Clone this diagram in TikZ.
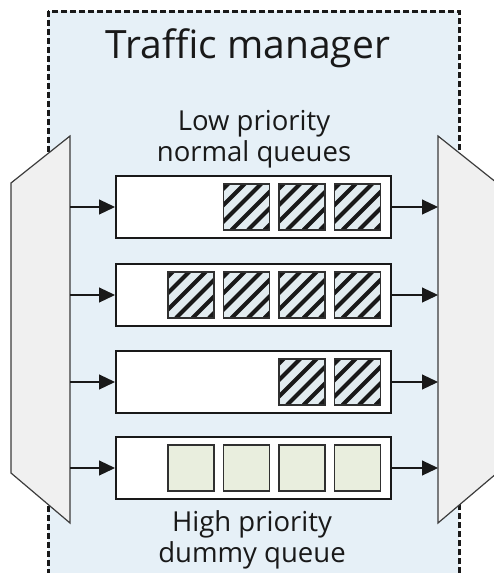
\documentclass[tikz,border=0pt]{standalone}
\usepackage{fontspec}
\setmainfont{Open Sans}
\usetikzlibrary{arrows.meta}
\definecolor{tmbg}{RGB}{230,240,247}
\definecolor{muxfill}{RGB}{240,240,240}
\definecolor{hatchbg}{RGB}{226,236,240}
\definecolor{greencell}{RGB}{233,238,222}
\definecolor{ink}{RGB}{25,25,25}
\tikzset{
  tmbox/.style={draw=ink, line width=3pt, dash pattern=on 6pt off 3pt, fill=tmbg},
  mux/.style={draw=ink!85, line width=1.2pt, fill=muxfill},
  queuebox/.style={draw=ink, line width=2pt, fill=white, minimum width=275pt, minimum height=62pt, inner sep=0pt},
  cellbase/.style={draw=ink!90, line width=1.5pt, minimum width=46pt, minimum height=46pt, inner sep=0pt},
  hcell/.style={cellbase, fill=hatchbg, path picture={
      \foreach \i in {-58,-41.5,...,58}
        \draw[ink, line width=4pt] ([xshift=\i pt]path picture bounding box.south west) -- ++(60pt,60pt);
    }},
  gcell/.style={cellbase, fill=greencell},
  flow/.style={draw=ink, line width=1.2pt, -{Triangle[length=16pt,width=15pt]}},
  lbl/.style={font=\fontsize{27.5}{31}\selectfont, text=ink, align=center, anchor=base, inner sep=0pt},
}
\begin{document}
\begin{tikzpicture}[x=1pt,y=-1pt]
\useasboundingbox (0,0) rectangle (494,573);
% traffic manager frame
\draw[tmbox] (48,11) rectangle (459,577);
\node[font=\fontsize{39}{44}\selectfont, text=ink, anchor=base, inner sep=0pt] (title) at (248,58) {Traffic manager};
% muxes
\draw[mux] (11,183) -- (70,136) -- (70,523) -- (11,473) -- cycle;
\draw[mux] (438,136) -- (497,183) -- (497,473) -- (438,523) -- cycle;
% queues
\foreach \n/\y in {1/207,2/295,3/382,4/468}{
  \node[queuebox] (q\n) at (253.5,\y) {};
  \coordinate (in\n) at (70,\y);
  \coordinate (out\n) at (438,\y);
  \draw[flow] (in\n) -- (q\n.west);
  \draw[flow] (q\n.east) -- (out\n);
}
% packets
\node[hcell] (c12) at (246.5,207) {};
\node[hcell] (c13) at (302,207) {};
\node[hcell] (c14) at (357.5,207) {};
\node[hcell] (c21) at (191,295) {};
\node[hcell] (c22) at (246.5,295) {};
\node[hcell] (c23) at (302,295) {};
\node[hcell] (c24) at (357.5,295) {};
\node[hcell] (c33) at (302,382) {};
\node[hcell] (c34) at (357.5,382) {};
\node[gcell] (c41) at (191,468) {};
\node[gcell] (c42) at (246.5,468) {};
\node[gcell] (c43) at (302,468) {};
\node[gcell] (c44) at (357.5,468) {};
% labels
\node[lbl] (low) at (254,161) {Low priority\\normal queues};
\node[lbl] (high) at (252,562) {High priority\\dummy queue};
\end{tikzpicture}
\end{document}
